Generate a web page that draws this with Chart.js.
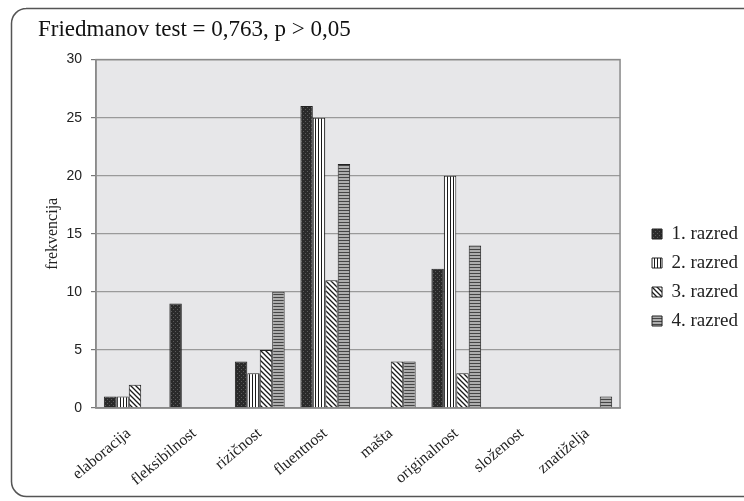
<!DOCTYPE html>
<html>
<head>
<meta charset="utf-8">
<script src="https://cdn.jsdelivr.net/npm/chart.js@4.4.0/dist/chart.umd.min.js"></script>
<style>
  html, body { margin: 0; padding: 0; background: #fff; }
  #wrap { width: 744px; height: 501px; }
</style>
</head>
<body>
<div id="wrap"><canvas id="grafikon"></canvas></div>
<script>
// ==================== PODACI ====================
const kategorije = ['elaboracija', 'fleksibilnost', 'rizičnost', 'fluentnost', 'mašta', 'originalnost', 'složenost', 'znatiželja'];
const razred1 = [1, 9, 4, 26, 0, 12, 0, 0];
const razred2 = [1, 0, 3, 25, 0, 20, 0, 0];
const razred3 = [2, 0, 5, 11, 4, 3, 0, 0];
const razred4 = [0, 0, 10, 21, 4, 14, 0, 1];
const oznakeSerija = ['1. razred', '2. razred', '3. razred', '4. razred'];
const yTicks = [0, 5, 10, 15, 20, 25, 30];

// ==================== UZORCI ====================
function napraviUzorak(w, h, crtaj) {
    const c = document.createElement('canvas');
    c.width = w; c.height = h;
    const g = c.getContext('2d');
    crtaj(g);
    return g.createPattern(c, 'repeat');
}

const uzorakTamni = napraviUzorak(4, 4, g => {
    g.fillStyle = '#2a2a2a'; g.fillRect(0, 0, 4, 4);
    g.fillStyle = '#5a5a5a'; g.fillRect(1, 1, 1, 1); g.fillRect(3, 3, 1, 1);
});
const uzorakVertikalni = napraviUzorak(3, 3, g => {
    g.fillStyle = '#ffffff'; g.fillRect(0, 0, 3, 3);
    g.fillStyle = '#1a1a1a'; g.fillRect(0, 0, 1, 3);
});
const uzorakDijagonalni = napraviUzorak(5, 5, g => {
    g.fillStyle = '#ffffff'; g.fillRect(0, 0, 5, 5);
    g.strokeStyle = '#1a1a1a'; g.lineWidth = 1.3;
    g.beginPath();
    g.moveTo(-1, -1); g.lineTo(6, 6);
    g.moveTo(-1, 4); g.lineTo(1, 6);
    g.moveTo(4, -1); g.lineTo(6, 1);
    g.stroke();
});
const uzorakHorizontalni = napraviUzorak(3, 3, g => {
    g.fillStyle = '#adadad'; g.fillRect(0, 0, 3, 3);
    g.fillStyle = '#454545'; g.fillRect(0, 0, 3, 1);
});

// ==================== PLUGINI ====================
const okvirPlugin = {
    id: 'okvir',
    afterLayout(chart) {
        // legenda malo udesno i niže, kao na originalu
        const pomakX = 748 - chart.legend.right;
        chart.legend.left += pomakX;
        chart.legend.right += pomakX;
        chart.legend.top += 21;
        chart.legend.bottom += 21;
    },
    beforeDraw(chart) {
        const ctx = chart.ctx;
        const a = chart.chartArea;
        ctx.save();
        // pozadina grafa
        ctx.fillStyle = '#e7e7e9';
        ctx.fillRect(a.left, a.top, a.right - a.left, a.bottom - a.top);
        // zaobljeni okvir oko cijele slike
        ctx.strokeStyle = '#555';
        ctx.lineWidth = 1.5;
        ctx.beginPath();
        ctx.moveTo(760, 8.5);
        ctx.lineTo(26, 8.5);
        ctx.arcTo(11.5, 8.5, 11.5, 23, 15);
        ctx.lineTo(11.5, 482);
        ctx.arcTo(11.5, 496.5, 26, 496.5, 15);
        ctx.lineTo(760, 496.5);
        ctx.stroke();
        ctx.restore();
    },
    afterDatasetsDraw(chart) {
        const ctx = chart.ctx;
        const a = chart.chartArea;
        ctx.save();
        ctx.strokeStyle = '#8a8a8a';
        ctx.lineWidth = 1.5;
        ctx.strokeRect(a.left, a.top, a.right - a.left, a.bottom - a.top);
        ctx.restore();
    }
};

// ==================== GRAF ====================
const serif = '"Liberation Serif", "Times New Roman", serif';
const ctx = document.getElementById('grafikon').getContext('2d');
new Chart(ctx, {
    type: 'bar',
    data: {
        labels: kategorije,
        datasets: [
            { label: oznakeSerija[0], data: razred1, backgroundColor: uzorakTamni },
            { label: oznakeSerija[1], data: razred2, backgroundColor: uzorakVertikalni },
            { label: oznakeSerija[2], data: razred3, backgroundColor: uzorakDijagonalni },
            { label: oznakeSerija[3], data: razred4, backgroundColor: uzorakHorizontalni }
        ].map(d => Object.assign(d, {
            borderColor: '#222',
            borderWidth: 1,
            borderSkipped: 'bottom',
            categoryPercentage: 0.76,
            barPercentage: 1.0
        }))
    },
    options: {
        responsive: true,
        maintainAspectRatio: false,
        animation: false,
        layout: { padding: { left: 38, top: 12, right: 18, bottom: 0 } },
        plugins: {
            title: {
                display: true,
                text: 'Friedmanov test = 0,763, p > 0,05',
                align: 'start',
                color: '#111',
                font: { family: serif, size: 23, weight: 'normal' },
                padding: { top: 4, bottom: 16 }
            },
            legend: {
                position: 'right',
                labels: {
                    color: '#222',
                    font: { family: serif, size: 19 },
                    boxWidth: 10,
                    boxHeight: 10,
                    padding: 10
                }
            },
            tooltip: { enabled: false }
        },
        scales: {
            x: {
                grid: { display: false },
                border: { display: true, color: '#8a8a8a', width: 1.5 },
                ticks: {
                    color: '#222',
                    font: { family: serif, size: 16 },
                    minRotation: 40,
                    maxRotation: 40,
                    padding: 8
                },
                afterFit(s) { s.height = 93; }
            },
            y: {
                min: 0,
                max: 30,
                afterBuildTicks(s) { s.ticks = yTicks.map(v => ({ value: v })); },
                grid: { color: '#9a9a9a', lineWidth: 1.2, tickLength: 5, tickColor: '#777' },
                border: { display: true, color: '#8a8a8a', width: 1.5 },
                ticks: {
                    color: '#222',
                    font: { family: '"Liberation Sans", Arial, sans-serif', size: 14 },
                    padding: 9
                },
                title: {
                    display: true,
                    text: 'frekvencija',
                    color: '#222',
                    font: { family: serif, size: 16 },
                    padding: { top: 5, bottom: 0 }
                },
                afterFit(s) { s.width = 58; }
            }
        }
    },
    plugins: [okvirPlugin]
});
</script>
</body>
</html>
